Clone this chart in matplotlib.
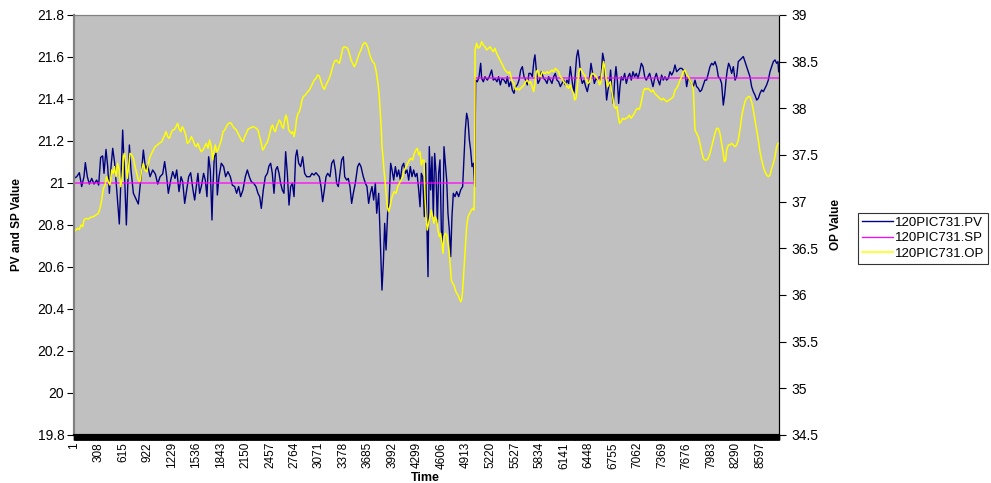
import matplotlib.pyplot as plt
from matplotlib.ticker import FuncFormatter, MultipleLocator

plt.rcParams["font.family"] = ["Liberation Sans", "DejaVu Sans"]

# PV (left axis)
pv_time = [
    1, 35, 68, 97, 126, 143, 168, 193, 223, 252, 285, 310, 335, 360, 377, 402,
    423, 444, 465, 486, 511, 536, 569, 590, 611, 632, 657, 674, 695, 715, 745,
    774, 807, 828, 849, 870, 899, 924, 954, 987, 1020, 1050, 1079, 1112, 1137,
    1162, 1183, 1213, 1238, 1267, 1288, 1317, 1342, 1363, 1388, 1413, 1438,
    1463, 1492, 1513, 1533, 1554, 1575, 1596, 1625, 1646, 1667, 1688, 1709,
    1730, 1742, 1759, 1780, 1797, 1818, 1847, 1876, 1901, 1930, 1960, 1985,
    2014, 2039, 2064, 2089, 2118, 2148, 2173, 2198, 2223, 2252, 2281, 2306,
    2327, 2348, 2373, 2398, 2424, 2444, 2465, 2486, 2507, 2528, 2549, 2570,
    2590, 2611, 2632, 2653, 2674, 2695, 2716, 2737, 2758, 2778, 2795, 2816,
    2841, 2866, 2891, 2916, 2941, 2958, 2983, 3008, 3033, 3058, 3075, 3096,
    3117, 3138, 3159, 3180, 3209, 3230, 3255, 3276, 3292, 3313, 3334, 3355,
    3376, 3393, 3418, 3438, 3459, 3480, 3501, 3526, 3555, 3576, 3597, 3626,
    3652, 3672, 3693, 3714, 3735, 3756, 3777, 3794, 3819, 3835, 3848, 3860,
    3877, 3894, 3911, 3931, 3948, 3969, 3986, 4007, 4028, 4048, 4069, 4090,
    4111, 4132, 4153, 4174, 4195, 4215, 4236, 4257, 4278, 4299, 4320, 4337,
    4353, 4370, 4391, 4407, 4420, 4437, 4453, 4470, 4487, 4503, 4520, 4537,
    4554, 4570, 4587, 4604, 4620, 4637, 4654, 4671, 4687, 4704, 4721, 4737,
    4754, 4775, 4796, 4821, 4846, 4871, 4888, 4904, 4921, 4938, 4955, 4971,
    4988, 5005, 5017, 5021, 5034, 5055, 5076, 5097, 5109, 5130, 5151, 5180,
    5205, 5234, 5255, 5276, 5301, 5322, 5343, 5364, 5389, 5414, 5431, 5452,
    5473, 5493, 5514, 5535, 5556, 5577, 5598, 5619, 5640, 5661, 5681, 5702,
    5723, 5744, 5765, 5777, 5794, 5815, 5836, 5857, 5886, 5907, 5928, 5949,
    5969, 5990, 6011, 6032, 6053, 6074, 6095, 6116, 6137, 6157, 6178, 6199,
    6220, 6241, 6266, 6283, 6299, 6316, 6333, 6350, 6370, 6391, 6412, 6433,
    6454, 6479, 6500, 6521, 6542, 6562, 6583, 6604, 6625, 6642, 6659, 6675,
    6692, 6709, 6725, 6742, 6759, 6776, 6792, 6809, 6826, 6842, 6859, 6880,
    6901, 6922, 6943, 6964, 6984, 7005, 7026, 7047, 7068, 7089, 7110, 7131,
    7152, 7172, 7193, 7214, 7235, 7256, 7277, 7298, 7319, 7340, 7364, 7385,
    7406, 7427, 7448, 7469, 7490, 7511, 7532, 7552, 7573, 7594, 7615, 7636,
    7657, 7678, 7699, 7719, 7740, 7761, 7782, 7803, 7824, 7845, 7866, 7887,
    7907, 7928, 7949, 7970, 7991, 8012, 8033, 8054, 8075, 8095, 8116, 8137,
    8154, 8171, 8187, 8204, 8221, 8242, 8263, 8284, 8304, 8325, 8346, 8367,
    8388, 8409, 8430, 8450, 8471, 8492, 8513, 8534, 8555, 8576, 8597, 8618,
    8639, 8659, 8680, 8701, 8722, 8743, 8764, 8785, 8805, 8822, 8831,
]
pv_value = [
    21.022, 21.030, 21.049, 20.983, 21.030, 21.097, 21.030, 20.995, 21.022,
    20.995, 21.014, 20.990, 21.122, 21.129, 21.046, 21.160, 21.078, 20.951,
    21.078, 21.165, 21.094, 20.967, 20.805, 21.030, 21.252, 21.062, 20.800,
    20.983, 21.181, 21.062, 20.951, 20.927, 20.900, 20.983, 21.062, 21.157,
    21.062, 21.086, 21.030, 21.062, 21.043, 20.995, 21.030, 21.043, 21.102,
    21.030, 20.951, 21.014, 21.054, 21.022, 21.062, 20.959, 21.030, 21.006,
    20.903, 20.967, 21.030, 21.049, 20.967, 20.919, 20.983, 21.046, 20.951,
    20.983, 21.046, 21.014, 20.935, 21.125, 21.062, 20.824, 20.983, 21.125,
    21.141, 20.943, 21.030, 21.094, 21.078, 21.030, 21.054, 21.030, 20.990,
    20.983, 20.951, 20.983, 20.935, 20.967, 21.030, 21.062, 21.030, 21.006,
    20.999, 20.983, 20.951, 20.935, 20.879, 20.967, 21.030, 21.046, 21.081,
    21.094, 21.046, 20.951, 21.062, 21.078, 21.046, 20.999, 20.967, 20.951,
    21.149, 21.046, 20.895, 20.983, 20.999, 20.935, 21.125, 21.157, 21.094,
    21.078, 21.125, 21.046, 21.030, 21.030, 21.030, 21.046, 21.038, 21.049,
    21.038, 21.030, 20.983, 20.911, 20.967, 21.030, 21.046, 21.030, 21.094,
    21.110, 21.062, 20.999, 20.983, 21.046, 21.110, 21.125, 21.030, 21.014,
    21.022, 20.983, 20.903, 20.951, 20.999, 21.078, 21.094, 21.078, 21.030,
    20.999, 20.983, 20.903, 20.951, 20.983, 20.919, 20.999, 20.856, 20.951,
    20.776, 20.649, 20.490, 20.617, 20.808, 20.681, 20.856, 20.903, 21.094,
    21.062, 21.014, 21.078, 21.030, 21.062, 21.014, 21.078, 21.094, 21.046,
    21.062, 21.014, 21.078, 21.030, 21.062, 21.030, 21.046, 20.967, 20.887,
    21.046, 21.030, 20.840, 21.094, 20.840, 20.554, 21.173, 20.967, 21.125,
    20.840, 21.141, 21.046, 20.808, 21.046, 21.110, 20.776, 20.697, 21.173,
    21.094, 21.014, 20.856, 20.776, 20.649, 20.840, 20.951, 20.935, 20.959,
    20.935, 20.967, 20.983, 21.125, 21.252, 21.332, 21.300, 21.205, 21.157,
    21.078, 21.094, 21.014, 20.983, 21.490, 21.482, 21.506, 21.570, 21.498,
    21.482, 21.506, 21.490, 21.506, 21.538, 21.490, 21.498, 21.482, 21.506,
    21.467, 21.498, 21.490, 21.474, 21.506, 21.459, 21.482, 21.443, 21.427,
    21.459, 21.467, 21.490, 21.538, 21.554, 21.506, 21.490, 21.467, 21.522,
    21.522, 21.506, 21.586, 21.610, 21.538, 21.474, 21.490, 21.530, 21.498,
    21.490, 21.474, 21.506, 21.490, 21.474, 21.506, 21.522, 21.490, 21.482,
    21.459, 21.474, 21.490, 21.467, 21.490, 21.474, 21.554, 21.490, 21.427,
    21.522, 21.602, 21.633, 21.586, 21.506, 21.474, 21.490, 21.459, 21.435,
    21.474, 21.570, 21.522, 21.474, 21.498, 21.490, 21.506, 21.490, 21.618,
    21.586, 21.490, 21.395, 21.443, 21.474, 21.538, 21.427, 21.379, 21.490,
    21.554, 21.490, 21.379, 21.459, 21.506, 21.490, 21.522, 21.474, 21.506,
    21.522, 21.490, 21.530, 21.506, 21.522, 21.498, 21.530, 21.570, 21.554,
    21.506, 21.490, 21.506, 21.522, 21.490, 21.459, 21.498, 21.522, 21.490,
    21.467, 21.514, 21.490, 21.506, 21.490, 21.498, 21.530, 21.514, 21.530,
    21.562, 21.530, 21.538, 21.546, 21.546, 21.538, 21.530, 21.459, 21.506,
    21.490, 21.474, 21.459, 21.490, 21.459, 21.451, 21.435, 21.443, 21.467,
    21.490, 21.490, 21.522, 21.554, 21.570, 21.562, 21.578, 21.554, 21.506,
    21.498, 21.474, 21.371, 21.419, 21.490, 21.538, 21.570, 21.554, 21.522,
    21.554, 21.490, 21.506, 21.578, 21.586, 21.594, 21.602, 21.578, 21.554,
    21.530, 21.506, 21.459, 21.435, 21.419, 21.395, 21.403, 21.427, 21.443,
    21.435, 21.451, 21.467, 21.490, 21.530, 21.554, 21.578, 21.586, 21.570,
    21.578, 21.530,
]

# SP (left axis): setpoint steps from 21 to 21.5
sp_time = [1, 5021, 5022, 8835]
sp_value = [21.0, 21.0, 21.5, 21.5]

# OP (right axis)
op_time = [
    1, 26, 43, 68, 89, 110, 126, 151, 181, 210, 243, 277, 306, 327, 348, 369,
    390, 410, 431, 452, 473, 494, 507, 528, 548, 569, 586, 607, 620, 632, 653,
    669, 682, 703, 724, 745, 766, 786, 807, 828, 849, 870, 891, 912, 933, 954,
    974, 995, 1016, 1045, 1070, 1100, 1129, 1154, 1175, 1196, 1217, 1238,
    1263, 1279, 1300, 1317, 1338, 1359, 1380, 1401, 1421, 1446, 1471, 1492,
    1513, 1533, 1554, 1575, 1596, 1617, 1638, 1659, 1680, 1700, 1721, 1738,
    1755, 1772, 1788, 1805, 1826, 1847, 1868, 1889, 1910, 1930, 1951, 1972,
    1993, 2014, 2035, 2056, 2077, 2098, 2118, 2139, 2160, 2181, 2202, 2223,
    2244, 2265, 2285, 2306, 2327, 2348, 2365, 2382, 2398, 2415, 2432, 2453,
    2474, 2490, 2507, 2524, 2540, 2557, 2574, 2590, 2607, 2624, 2641, 2657,
    2674, 2691, 2707, 2724, 2741, 2758, 2774, 2791, 2808, 2825, 2841, 2858,
    2875, 2900, 2929, 2950, 2971, 2991, 3012, 3033, 3054, 3075, 3096, 3117,
    3138, 3159, 3180, 3200, 3221, 3242, 3263, 3284, 3305, 3326, 3347, 3368,
    3388, 3409, 3430, 3451, 3472, 3493, 3514, 3535, 3555, 3576, 3597, 3618,
    3639, 3660, 3681, 3702, 3723, 3743, 3764, 3785, 3798, 3810, 3827, 3840,
    3852, 3860, 3873, 3885, 3898, 3911, 3927, 3944, 3961, 3977, 3994, 4015,
    4036, 4057, 4078, 4098, 4119, 4140, 4161, 4182, 4203, 4224, 4245, 4266,
    4286, 4303, 4320, 4337, 4353, 4370, 4387, 4399, 4412, 4428, 4445, 4462,
    4478, 4495, 4512, 4528, 4545, 4562, 4579, 4595, 4612, 4625, 4637, 4654,
    4671, 4687, 4704, 4716, 4729, 4746, 4762, 4779, 4796, 4813, 4829, 4846,
    4858, 4871, 4884, 4896, 4909, 4921, 4938, 4959, 4980, 4996, 5013, 5021,
    5026, 5046, 5067, 5088, 5109, 5130, 5151, 5172, 5193, 5214, 5234, 5255,
    5276, 5297, 5318, 5339, 5360, 5381, 5402, 5422, 5443, 5460, 5477, 5493,
    5514, 5535, 5556, 5577, 5598, 5619, 5640, 5661, 5681, 5702, 5723, 5744,
    5761, 5777, 5794, 5811, 5828, 5848, 5869, 5890, 5907, 5928, 5949, 5969,
    5990, 6011, 6032, 6053, 6074, 6095, 6116, 6137, 6157, 6178, 6199, 6220,
    6241, 6262, 6274, 6291, 6308, 6324, 6341, 6358, 6379, 6400, 6421, 6441,
    6462, 6483, 6504, 6525, 6546, 6567, 6588, 6604, 6621, 6638, 6654, 6671,
    6688, 6705, 6721, 6738, 6755, 6771, 6788, 6805, 6821, 6838, 6855, 6876,
    6897, 6918, 6939, 6960, 6980, 7001, 7022, 7043, 7064, 7085, 7101, 7118,
    7135, 7152, 7172, 7193, 7214, 7235, 7256, 7277, 7298, 7319, 7340, 7364,
    7385, 7406, 7427, 7448, 7469, 7490, 7511, 7532, 7552, 7573, 7594, 7615,
    7636, 7657, 7678, 7699, 7719, 7740, 7761, 7774, 7782, 7803, 7824, 7845,
    7866, 7887, 7907, 7928, 7949, 7970, 7991, 8012, 8033, 8054, 8075, 8095,
    8116, 8137, 8150, 8166, 8179, 8200, 8221, 8242, 8263, 8284, 8304, 8325,
    8346, 8367, 8388, 8409, 8430, 8450, 8471, 8492, 8513, 8534, 8555, 8576,
    8597, 8618, 8639, 8659, 8680, 8701, 8722, 8743, 8764, 8785, 8805, 8826,
]
op_value = [
    36.678, 36.696, 36.714, 36.703, 36.750, 36.732, 36.803, 36.821, 36.814,
    36.832, 36.839, 36.857, 36.875, 36.928, 37.018, 37.143, 37.178, 37.268,
    37.214, 37.178, 37.339, 37.303, 37.375, 37.268, 37.410, 37.339, 37.161,
    37.268, 37.482, 37.518, 37.410, 37.250, 37.339, 37.518, 37.500, 37.464,
    37.375, 37.303, 37.232, 37.214, 37.339, 37.410, 37.339, 37.321, 37.410,
    37.482, 37.518, 37.553, 37.589, 37.607, 37.625, 37.643, 37.696, 37.750,
    37.696, 37.678, 37.732, 37.768, 37.775, 37.803, 37.839, 37.785, 37.750,
    37.803, 37.768, 37.714, 37.625, 37.643, 37.696, 37.660, 37.607, 37.589,
    37.625, 37.571, 37.535, 37.553, 37.589, 37.625, 37.571, 37.660, 37.589,
    37.446, 37.535, 37.607, 37.535, 37.553, 37.607, 37.660, 37.750, 37.768,
    37.803, 37.832, 37.846, 37.839, 37.803, 37.785, 37.768, 37.732, 37.696,
    37.660, 37.643, 37.696, 37.732, 37.775, 37.785, 37.796, 37.803, 37.796,
    37.785, 37.768, 37.696, 37.625, 37.553, 37.571, 37.607, 37.625, 37.660,
    37.732, 37.803, 37.821, 37.768, 37.750, 37.803, 37.839, 37.875, 37.857,
    37.803, 37.785, 37.875, 37.928, 37.875, 37.768, 37.750, 37.732, 37.750,
    37.696, 37.768, 37.893, 37.946, 37.964, 38.018, 38.089, 38.125, 38.143,
    38.178, 38.196, 38.232, 38.268, 38.303, 38.321, 38.357, 38.346, 38.285,
    38.232, 38.203, 38.250, 38.285, 38.321, 38.375, 38.446, 38.500, 38.518,
    38.500, 38.482, 38.553, 38.643, 38.660, 38.653, 38.643, 38.589, 38.518,
    38.482, 38.446, 38.482, 38.535, 38.589, 38.625, 38.678, 38.703, 38.696,
    38.660, 38.589, 38.535, 38.500, 38.482, 38.410, 38.339, 38.268, 38.125,
    37.946, 37.768, 37.589, 37.482, 37.339, 37.232, 37.089, 36.946, 36.893,
    36.946, 37.018, 37.071, 37.107, 37.089, 37.161, 37.196, 37.232, 37.268,
    37.339, 37.375, 37.410, 37.446, 37.464, 37.446, 37.518, 37.553, 37.571,
    37.500, 37.535, 37.393, 37.446, 37.446, 37.053, 36.839, 36.696, 36.768,
    36.839, 36.910, 36.839, 36.768, 36.839, 36.803, 36.696, 36.625, 36.660,
    36.553, 36.446, 36.625, 36.660, 36.643, 36.553, 36.446, 36.303, 36.160,
    36.125, 36.107, 36.053, 36.018, 36.000, 35.964, 35.928, 35.946, 36.053,
    36.232, 36.410, 36.589, 36.732, 36.839, 36.875, 36.910, 36.928, 36.910,
    37.232, 38.625, 38.696, 38.643, 38.660, 38.714, 38.678, 38.660, 38.625,
    38.643, 38.660, 38.632, 38.607, 38.643, 38.589, 38.553, 38.518, 38.482,
    38.446, 38.410, 38.393, 38.375, 38.393, 38.339, 38.285, 38.268, 38.196,
    38.214, 38.196, 38.214, 38.232, 38.250, 38.285, 38.303, 38.268, 38.285,
    38.232, 38.178, 38.268, 38.393, 38.410, 38.357, 38.339, 38.393, 38.375,
    38.375, 38.393, 38.375, 38.393, 38.410, 38.393, 38.428, 38.410, 38.393,
    38.339, 38.321, 38.285, 38.268, 38.232, 38.214, 38.250, 38.196, 38.160,
    38.089, 38.107, 38.232, 38.375, 38.428, 38.410, 38.375, 38.357, 38.303,
    38.268, 38.285, 38.357, 38.375, 38.357, 38.339, 38.303, 38.250, 38.285,
    38.410, 38.500, 38.428, 38.303, 38.232, 38.268, 38.285, 38.196, 38.107,
    38.018, 38.000, 38.018, 37.910, 37.839, 37.857, 37.893, 37.882, 37.893,
    37.903, 37.928, 37.893, 37.918, 37.946, 37.982, 38.000, 37.989, 38.035,
    38.107, 38.178, 38.214, 38.203, 38.214, 38.196, 38.178, 38.196, 38.160,
    38.143, 38.125, 38.107, 38.089, 38.107, 38.089, 38.071, 38.082, 38.096,
    38.107, 38.125, 38.196, 38.214, 38.250, 38.303, 38.339, 38.393, 38.410,
    38.357, 38.339, 38.303, 38.268, 38.214, 37.946, 37.768, 37.732, 37.696,
    37.625, 37.535, 37.464, 37.446, 37.446, 37.464, 37.518, 37.589, 37.660,
    37.732, 37.785, 37.785, 37.732, 37.625, 37.518, 37.428, 37.446, 37.553,
    37.607, 37.607, 37.625, 37.607, 37.589, 37.607, 37.660, 37.768, 37.910,
    38.000, 38.071, 38.107, 38.125, 38.125, 38.071, 37.982, 37.875, 37.768,
    37.660, 37.535, 37.446, 37.375, 37.321, 37.285, 37.268, 37.285, 37.357,
    37.410, 37.482, 37.589, 37.625,
]

x_ticks = list(range(1, 8598, 307))

fig = plt.figure(figsize=(9.91, 4.83), dpi=100)
ax = fig.add_axes([74 / 991, 48 / 483, 705 / 991, 420 / 483])
ax.set_facecolor("#C0C0C0")

ax.plot(pv_time, pv_value, color="#000080", linewidth=1.0, label="120PIC731.PV")
ax.plot(sp_time, sp_value, color="#FF00FF", linewidth=0.9, label="120PIC731.SP")

ax2 = ax.twinx()
ax2.plot(op_time, op_value, color="#FFFF00", linewidth=1.1, label="120PIC731.OP")

# Axis limits and ticks
ax.set_xlim(1, 8835)
ax.set_ylim(19.8, 21.8)
ax2.set_ylim(34.5, 39)
ax.set_xticks(x_ticks)
ax.set_xticklabels([str(t) for t in x_ticks], rotation=90, fontsize=8.5)
# dense category ticks -> black band under the plot
ax.xaxis.set_minor_locator(MultipleLocator(5))
ax.tick_params(axis="x", which="major", length=3.6, width=1, pad=1.5)
ax.tick_params(axis="x", which="minor", length=3.6, width=1, color="black")
ax.yaxis.set_major_locator(MultipleLocator(0.2))
ax.yaxis.set_major_formatter(FuncFormatter(lambda v, p: f"{v:g}"))
ax2.yaxis.set_major_locator(MultipleLocator(0.5))
ax2.yaxis.set_major_formatter(FuncFormatter(lambda v, p: f"{v:g}"))
ax.tick_params(axis="y", length=5, width=0.8, labelsize=10, pad=2)
ax2.tick_params(axis="y", length=5, width=0.8, labelsize=10, pad=4)

# Spines like the old spreadsheet chart
for a in (ax, ax2):
    a.spines["top"].set_color("#808080")
    a.spines["left"].set_color("#808080")
    a.spines["left"].set_linewidth(1.5)
    a.spines["right"].set_color("black")
    a.spines["bottom"].set_color("black")
    a.spines["bottom"].set_linewidth(1.5)

# Axis titles
ax.set_xlabel("Time", fontsize=9, fontweight="bold")
ax.xaxis.set_label_coords(0.499, -0.087)
ax.set_ylabel("PV and SP Value", fontsize=8.5, fontweight="bold")
ax.yaxis.set_label_coords(-0.073, 0.5)
ax2.set_ylabel("OP Value", fontsize=8.5, fontweight="bold")
ax2.yaxis.set_label_coords(1.073, 0.5)

# Legend
handles = ax.get_lines() + ax2.get_lines()
leg = fig.legend(
    handles,
    [h.get_label() for h in handles],
    loc="center left",
    bbox_to_anchor=(0.866, 0.507),
    fontsize=9.5,
    frameon=True,
    fancybox=False,
    handlelength=2.3,
    handletextpad=0.2,
    borderpad=0.3,
    borderaxespad=0.0,
    labelspacing=0.25,
)
leg.get_frame().set_edgecolor("black")
leg.get_frame().set_linewidth(0.8)

fig.savefig("out.png", dpi=100)
plt.close(fig)
